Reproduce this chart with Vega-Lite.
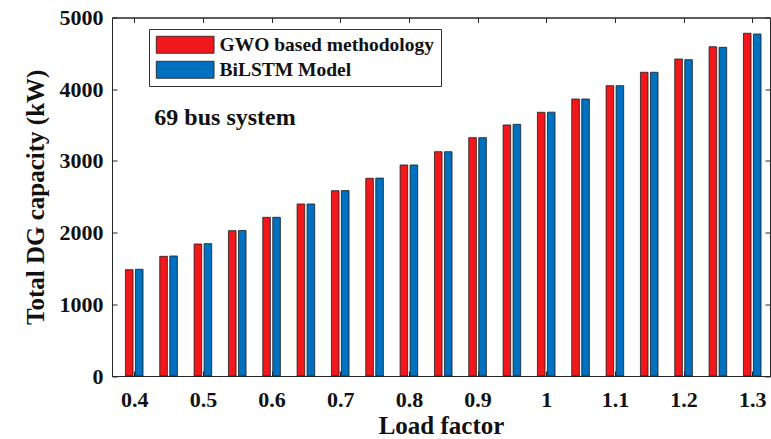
{
  "$schema": "https://vega.github.io/schema/vega-lite/v6.json",
  "width": 658,
  "height": 358.5,
  "autosize": "none",
  "padding": {"left": 112, "top": 17.5, "right": 1, "bottom": 63},
  "background": "white",
  "config": {
    "font": "Liberation Serif",
    "view": {"stroke": "#262626", "strokeWidth": 1},
    "axis": {
      "domainColor": "#262626",
      "tickColor": "#262626",
      "labelColor": "#111111",
      "titleColor": "#111111",
      "labelFont": "Liberation Serif",
      "titleFont": "Liberation Serif",
      "labelFontWeight": "bold",
      "titleFontWeight": "bold",
      "labelFontSize": 22,
      "titleFontSize": 25,
      "grid": false,
      "tickSize": -5
    }
  },
  "datasets": {
    "bars": [
      {"lf": 0.4, "series": "GWO based methodology", "value": 1483},
      {"lf": 0.4, "series": "BiLSTM Model", "value": 1488},
      {"lf": 0.45, "series": "GWO based methodology", "value": 1669},
      {"lf": 0.45, "series": "BiLSTM Model", "value": 1674},
      {"lf": 0.5, "series": "GWO based methodology", "value": 1841},
      {"lf": 0.5, "series": "BiLSTM Model", "value": 1846},
      {"lf": 0.55, "series": "GWO based methodology", "value": 2027},
      {"lf": 0.55, "series": "BiLSTM Model", "value": 2030},
      {"lf": 0.6, "series": "GWO based methodology", "value": 2213},
      {"lf": 0.6, "series": "BiLSTM Model", "value": 2213},
      {"lf": 0.65, "series": "GWO based methodology", "value": 2399},
      {"lf": 0.65, "series": "BiLSTM Model", "value": 2399},
      {"lf": 0.7, "series": "GWO based methodology", "value": 2584},
      {"lf": 0.7, "series": "BiLSTM Model", "value": 2586},
      {"lf": 0.75, "series": "GWO based methodology", "value": 2757},
      {"lf": 0.75, "series": "BiLSTM Model", "value": 2760},
      {"lf": 0.8, "series": "GWO based methodology", "value": 2943},
      {"lf": 0.8, "series": "BiLSTM Model", "value": 2943},
      {"lf": 0.85, "series": "GWO based methodology", "value": 3128},
      {"lf": 0.85, "series": "BiLSTM Model", "value": 3128},
      {"lf": 0.9, "series": "GWO based methodology", "value": 3324},
      {"lf": 0.9, "series": "BiLSTM Model", "value": 3324},
      {"lf": 0.95, "series": "GWO based methodology", "value": 3501},
      {"lf": 0.95, "series": "BiLSTM Model", "value": 3510},
      {"lf": 1.0, "series": "GWO based methodology", "value": 3678},
      {"lf": 1.0, "series": "BiLSTM Model", "value": 3680},
      {"lf": 1.05, "series": "GWO based methodology", "value": 3863},
      {"lf": 1.05, "series": "BiLSTM Model", "value": 3863},
      {"lf": 1.1, "series": "GWO based methodology", "value": 4049},
      {"lf": 1.1, "series": "BiLSTM Model", "value": 4049},
      {"lf": 1.15, "series": "GWO based methodology", "value": 4236},
      {"lf": 1.15, "series": "BiLSTM Model", "value": 4236},
      {"lf": 1.2, "series": "GWO based methodology", "value": 4421},
      {"lf": 1.2, "series": "BiLSTM Model", "value": 4412},
      {"lf": 1.25, "series": "GWO based methodology", "value": 4592},
      {"lf": 1.25, "series": "BiLSTM Model", "value": 4584},
      {"lf": 1.3, "series": "GWO based methodology", "value": 4780},
      {"lf": 1.3, "series": "BiLSTM Model", "value": 4770}
    ],
    "note": [{"lf": 0.4293, "value": 3600, "label": "69 bus system"}]
  },
  "layer": [
    {
      "data": {"name": "bars"},
      "transform": [{"filter": "datum.series === 'GWO based methodology'"}],
      "mark": {"type": "bar", "width": 7.6, "xOffset": -5, "stroke": "#1a1a1a", "strokeWidth": 0.8},
      "encoding": {
        "x": {
          "field": "lf", "type": "quantitative",
          "scale": {"domain": [0.3749, 1.3186], "nice": false, "zero": false},
          "axis": {
            "values": [0.4, 0.5, 0.6, 0.7, 0.8, 0.9, 1.0, 1.1, 1.2, 1.3],
            "labelExpr": "'' + datum.value",
            "labelPadding": 18,
            "title": "Load factor",
            "titlePadding": 3
          }
        },
        "y": {
          "field": "value", "type": "quantitative",
          "scale": {"domain": [0, 5000], "nice": false},
          "axis": {
            "values": [0, 1000, 2000, 3000, 4000, 5000],
            "format": "d",
            "labelPadding": 14,
            "title": "Total DG capacity (kW)",
            "titlePadding": 11
          }
        },
        "color": {
          "field": "series", "type": "nominal",
          "scale": {"domain": ["GWO based methodology", "BiLSTM Model"], "range": ["#F2171B", "#0071C1"]},
          "legend": {
            "orient": "none",
            "legendX": 37,
            "legendY": 11.5,
            "title": null,
            "symbolType": "M-1,-1H5.8V1H-1Z",
            "symbolSize": 289,
            "symbolStrokeColor": "#1a1a1a",
            "symbolStrokeWidth": 0.8,
            "symbolOpacity": 1,
            "labelFont": "Liberation Serif",
            "labelFontSize": 19.5,
            "labelFontWeight": "bold",
            "labelColor": "#111111",
            "labelLimit": 400,
            "labelOffset": 45,
            "rowPadding": 4,
            "padding": 6,
            "strokeColor": "#333333",
            "fillColor": "white"
          }
        }
      }
    },
    {
      "data": {"name": "bars"},
      "transform": [{"filter": "datum.series === 'BiLSTM Model'"}],
      "mark": {"type": "bar", "width": 7.6, "xOffset": 5, "stroke": "#1a1a1a", "strokeWidth": 0.8},
      "encoding": {
        "x": {"field": "lf", "type": "quantitative", "axis": null},
        "y": {"field": "value", "type": "quantitative", "axis": null},
        "color": {"field": "series", "type": "nominal"}
      }
    },
    {
      "data": {"name": "note"},
      "mark": {"type": "text", "align": "left", "baseline": "middle", "fontSize": 24, "fontWeight": "bold", "font": "Liberation Serif", "color": "#111111"},
      "encoding": {
        "x": {
          "field": "lf", "type": "quantitative",
          "axis": {"orient": "top", "values": [0.4, 0.5, 0.6, 0.7, 0.8, 0.9, 1.0, 1.1, 1.2, 1.3], "labels": false, "title": null}
        },
        "y": {
          "field": "value", "type": "quantitative",
          "axis": {"orient": "right", "values": [0, 1000, 2000, 3000, 4000, 5000], "labels": false, "title": null}
        },
        "text": {"field": "label"}
      }
    }
  ],
  "resolve": {"axis": {"x": "independent", "y": "independent"}}
}
